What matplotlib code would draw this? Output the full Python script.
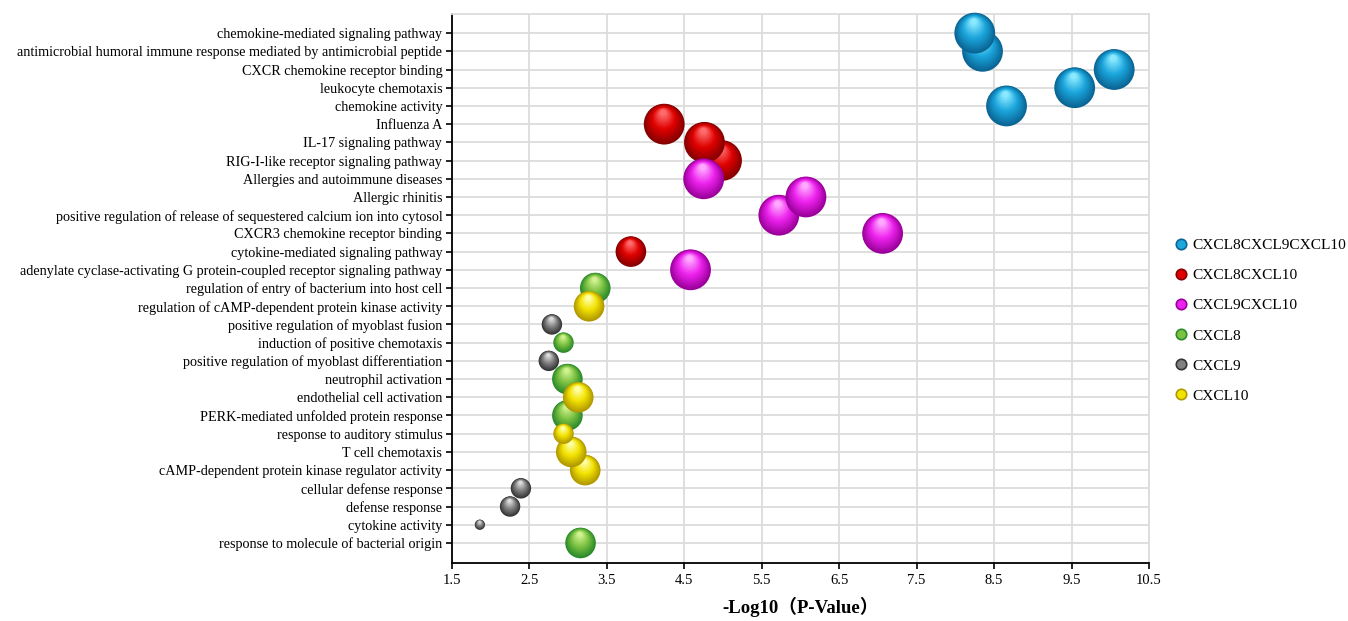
import matplotlib
matplotlib.use("Agg")
import matplotlib.pyplot as plt
import matplotlib.transforms as mtransforms
from matplotlib.colors import to_rgb
from matplotlib.lines import Line2D
import numpy as np

plt.rcParams['font.family'] = ['Liberation Serif', 'Noto Sans CJK SC', 'DejaVu Sans']

terms = [
    "chemokine-mediated signaling pathway",
    "antimicrobial humoral immune response mediated by antimicrobial peptide",
    "CXCR chemokine receptor binding",
    "leukocyte chemotaxis",
    "chemokine activity",
    "Influenza A",
    "IL-17 signaling pathway",
    "RIG-I-like receptor signaling pathway",
    "Allergies and autoimmune diseases",
    "Allergic rhinitis",
    "positive regulation of release of sequestered calcium ion into cytosol",
    "CXCR3 chemokine receptor binding",
    "cytokine-mediated signaling pathway",
    "adenylate cyclase-activating G protein-coupled receptor signaling pathway",
    "regulation of entry of bacterium into host cell",
    "regulation of cAMP-dependent protein kinase activity",
    "positive regulation of myoblast fusion",
    "induction of positive chemotaxis",
    "positive regulation of myoblast differentiation",
    "neutrophil activation",
    "endothelial cell activation",
    "PERK-mediated unfolded protein response",
    "response to auditory stimulus",
    "T cell chemotaxis",
    "cAMP-dependent protein kinase regulator activity",
    "cellular defense response",
    "defense response",
    "cytokine activity",
    "response to molecule of bacterial origin",
]

neg_log_p = [8.25, 8.35, 10.05, 9.54, 8.66,
             4.24, 4.76, 4.98,
             4.75, 6.07, 5.72, 7.06,
             3.81, 4.58,
             3.35, 3.27, 2.79, 2.94, 2.75, 2.99, 3.13, 2.99, 2.94, 3.04, 3.22,
             2.39, 2.25, 1.86, 3.16]

counts = [4, 4, 4, 4, 4,
          4, 4, 4,
          4, 4, 4, 4,
          3, 4,
          3, 3, 2, 2, 2, 3, 3, 3, 2, 3, 3,
          2, 2, 1, 3]

groups = ["CXCL8CXCL9CXCL10"] * 5 + ["CXCL8CXCL10"] * 3 + ["CXCL9CXCL10"] * 4 + \
         ["CXCL8CXCL10", "CXCL9CXCL10",
          "CXCL8", "CXCL10", "CXCL9", "CXCL8", "CXCL9", "CXCL8", "CXCL10",
          "CXCL8", "CXCL10", "CXCL10", "CXCL10", "CXCL9", "CXCL9", "CXCL9", "CXCL8"]

legend_order = ["CXCL8CXCL9CXCL10", "CXCL8CXCL10", "CXCL9CXCL10", "CXCL8", "CXCL9", "CXCL10"]

# dark rim, body, highlight
palette = {
    "CXCL8CXCL9CXCL10": ("#0a6594", "#1ba6dd", "#8ae9ff"),
    "CXCL8CXCL10": ("#850000", "#e00000", "#ff6a6a"),
    "CXCL9CXCL10": ("#9a009a", "#ee22ee", "#ffa8ff"),
    "CXCL8": ("#2b8a2b", "#7cc242", "#d0f290"),
    "CXCL9": ("#353535", "#808080", "#dcdcdc"),
    "CXCL10": ("#b09800", "#f2e200", "#ffffa6"),
}


def mix(c1, c2, t):
    a = np.array(to_rgb(c1))
    b = np.array(to_rgb(c2))
    return tuple(a + (b - a) * t)


fig = plt.figure(figsize=(13.48, 6.21), dpi=100)
ax = fig.add_axes([0.3353, 0.0934, 0.5171, 0.8841])

ypos = np.arange(len(terms))
ax.set_xlim(1.5, 10.5)
ax.set_ylim(len(terms) - 1 + 1.1, -1.05)

ax.set_xticks(np.arange(1.5, 10.51, 1.0))
ax.set_xticklabels([f"{v:.1f}" for v in np.arange(1.5, 10.51, 1.0)], fontsize=10.5)
ax.set_yticks(ypos)
ax.set_yticklabels(terms, fontsize=10.2)
ax.grid(True, color="#dcdcdc", linewidth=1.3)
ax.set_axisbelow(True)
for side in ["top", "right"]:
    ax.spines[side].set_color("#dcdcdc")
    ax.spines[side].set_linewidth(1.3)
for side in ["left", "bottom"]:
    ax.spines[side].set_color("black")
    ax.spines[side].set_linewidth(1.3)
ax.tick_params(axis="both", direction="out", length=4, width=1.2, colors="black", pad=3)
ax.tick_params(axis="x", pad=4)

ax.set_xlabel("-Log10（P-Value）", fontsize=13.5, fontweight="bold", labelpad=7)

n_layers = 16
gorder = {g: i for i, g in enumerate(legend_order)}
for i in range(len(terms)):
    g = groups[i]
    dark, body, light = palette[g]
    d = 10.2 * counts[i] * 0.72  # diameter in points
    base_z = 10 + gorder[g] * 100 + (len(terms) - i) * 2
    for k in range(n_layers):
        t = k / (n_layers - 1)
        dk = d * (1 - 0.85 * t)
        shrink = (d - dk) / 2
        tr = mtransforms.offset_copy(ax.transData, fig=fig, x=-0.06 * shrink,
                                     y=0.66 * shrink, units="points")
        if t < 0.5:
            col = mix(dark, body, t / 0.5)
        else:
            col = mix(body, light, (t - 0.5) / 0.5)
        ax.scatter([neg_log_p[i]], [ypos[i]], s=dk ** 2, color=col,
                   edgecolors="none", transform=tr, zorder=base_z + t * 0.9,
                   clip_on=False)

handles = [Line2D([], [], marker="o", linestyle="none", markersize=7.5,
                  markerfacecolor=palette[g][1], markeredgecolor=palette[g][0],
                  markeredgewidth=1.2, label=g) for g in legend_order]
fig.legend(handles=handles, loc="upper left", bbox_to_anchor=(0.866, 0.626),
           frameon=False, fontsize=11.1, labelspacing=1.06, handletextpad=0.25,
           handlelength=1.0, borderaxespad=0)

fig.savefig("out.png", dpi=100)
